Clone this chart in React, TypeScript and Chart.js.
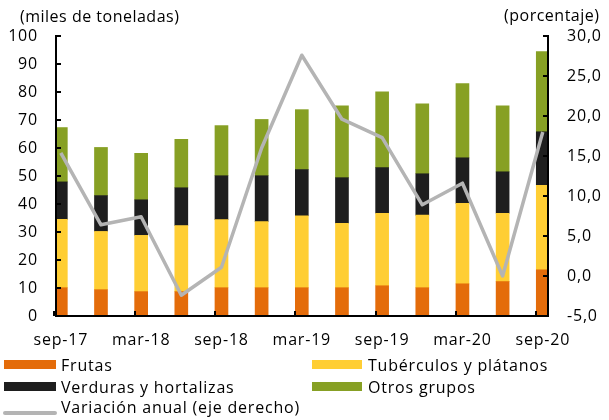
import React, { useEffect, useRef } from "react";
import { Chart, registerables } from "chart.js";

Chart.register(...registerables);

const categories = ["sep-17", "dic-17", "mar-18", "jun-18", "sep-18", "dic-18", "mar-19", "jun-19", "sep-19", "dic-19", "mar-20", "jun-20", "sep-20"];
const shownEvery = 2;

const frutas = [10.1, 9.4, 8.7, 8.7, 10.1, 10.1, 10.1, 10.1, 10.8, 10.1, 11.5, 12.3, 16.5];
const tuberculos = [24.4, 20.8, 20.1, 23.6, 24.3, 23.6, 25.7, 23.0, 25.9, 25.9, 28.7, 24.4, 30.2];
const verduras = [13.4, 12.8, 12.7, 13.5, 15.7, 16.4, 16.5, 16.3, 16.3, 14.8, 16.3, 14.8, 19.1];
const otros = [19.4, 17.2, 16.6, 17.3, 17.9, 20.1, 21.4, 25.7, 27.1, 25.0, 26.5, 23.6, 28.6];
const variacion = [15.4, 6.4, 7.4, -2.4, 1.1, 16.0, 27.6, 19.6, 17.3, 8.9, 11.6, 0.0, 18.0];

const seriesNames = ["Frutas", "Tubérculos y plátanos", "Verduras y hortalizas", "Otros grupos", "Variación anual (eje derecho)"];
const leftTitle = "(miles de toneladas)";
const rightTitle = "(porcentaje)";

const COLORS = {
  frutas: "#E46C0A",
  tuberculos: "#FFCE34",
  verduras: "#1E1E1E",
  otros: "#87A024",
  linea: "#B4B4B4",
};

const FONT = "'Open Sans', 'Noto Sans', sans-serif";
const BAR_W = 13;
const TICK_LEN = 5;

const innerTicks = {
  id: "innerTicks",
  beforeDraw(chart: any) {
    try {
      chart.ctx.letterSpacing = "0.8px";
    } catch (e) {}
  },
  afterDraw(chart: any) {
    const ctx = chart.ctx;
    const { left, right, bottom } = chart.chartArea;
    const y = chart.scales.y;
    const y1 = chart.scales.y1;
    const x = chart.scales.x;
    ctx.save();
    ctx.strokeStyle = "#000";
    ctx.lineWidth = 2;
    ctx.beginPath();
    y.ticks.forEach((t: any) => {
      const py = Math.round(y.getPixelForValue(t.value));
      ctx.moveTo(left, py);
      ctx.lineTo(left + TICK_LEN, py);
    });
    y1.ticks.forEach((t: any) => {
      const py = Math.round(y1.getPixelForValue(t.value));
      ctx.moveTo(right, py);
      ctx.lineTo(right - TICK_LEN, py);
    });
    categories.forEach((_, i) => {
      if (i % shownEvery !== 0) return;
      const px = Math.round(x.getPixelForValue(i) - BAR_W / 2);
      ctx.moveTo(px, bottom);
      ctx.lineTo(px, bottom - TICK_LEN);
    });
    ctx.stroke();
    ctx.restore();
  },
};

export default function App() {
  const ref = useRef<HTMLCanvasElement | null>(null);

  useEffect(() => {
    if (!ref.current) return;
    const toXY = (arr: number[]) => arr.map((v, i) => ({ x: i, y: v }));
    const barBase = { type: "bar" as const, yAxisID: "y", xAxisID: "x", barThickness: BAR_W, order: 2, borderWidth: 0 };
    const chart = new Chart(ref.current, {
      type: "bar",
      data: {
        datasets: [
          { ...barBase, label: seriesNames[0], data: toXY(frutas), backgroundColor: COLORS.frutas },
          { ...barBase, label: seriesNames[1], data: toXY(tuberculos), backgroundColor: COLORS.tuberculos },
          { ...barBase, label: seriesNames[2], data: toXY(verduras), backgroundColor: COLORS.verduras },
          { ...barBase, label: seriesNames[3], data: toXY(otros), backgroundColor: COLORS.otros },
          {
            type: "line" as const,
            label: seriesNames[4],
            data: toXY(variacion),
            yAxisID: "y1",
            xAxisID: "x",
            borderColor: COLORS.linea,
            backgroundColor: COLORS.linea,
            borderWidth: 3.5,
            pointRadius: 0,
            tension: 0,
            borderJoinStyle: "round",
            order: 0,
          } as any,
        ],
      },
      options: {
        responsive: false,
        animation: false,
        layout: { padding: { top: 36, left: 0, right: 0, bottom: 0 } },
        plugins: {
          legend: { display: false },
          tooltip: { enabled: false },
          title: { display: false },
        },
        scales: {
          x: {
            type: "linear",
            offset: false,
            min: -0.12,
            max: 12.13,
            stacked: true,
            grid: { display: false, drawTicks: false, offset: false },
            border: { display: true, color: "#000", width: 2, z: 1 } as any,
            afterBuildTicks: (scale: any) => {
              scale.ticks = categories
                .map((_, i) => i)
                .filter((i) => i % shownEvery === 0)
                .map((i) => ({ value: i }));
            },
            afterFit: (scale: any) => {
              scale.height = 104;
            },
            ticks: {
              autoSkip: false,
              maxRotation: 0,
              padding: 15,
              color: "#000",
              font: { family: FONT, size: 16 },
              callback: (v: any) => categories[Number(v)] ?? "",
            },
          } as any,
          y: {
            type: "linear",
            position: "left",
            stacked: true,
            min: 0,
            max: 100,
            grid: { display: false, drawTicks: false },
            border: { display: true, color: "#000", width: 2, z: 1 } as any,
            afterFit: (scale: any) => {
              scale.width = 56;
            },
            ticks: {
              stepSize: 10,
              padding: 18,
              color: "#000",
              font: { family: FONT, size: 16 },
            },
          },
          y1: {
            type: "linear",
            position: "right",
            min: -5,
            max: 30,
            grid: { display: false, drawTicks: false },
            border: { display: true, color: "#000", width: 2, z: 1 } as any,
            afterFit: (scale: any) => {
              scale.width = 61;
            },
            ticks: {
              stepSize: 5,
              padding: 19,
              color: "#000",
              font: { family: FONT, size: 16 },
              callback: (v: any) => Number(v).toFixed(1).replace(".", ","),
            },
          },
        },
      },
      plugins: [innerTicks],
    });
    return () => chart.destroy();
  }, []);

  const textStyle: React.CSSProperties = {
    position: "absolute",
    fontFamily: FONT,
    fontSize: 16,
    lineHeight: "20px",
    color: "#000",
    whiteSpace: "nowrap",
    letterSpacing: "0.8px",
  };
  const titleStyle: React.CSSProperties = { ...textStyle, letterSpacing: "0.5px" };
  const box = (color: string, left: number, top: number, w: number): React.CSSProperties => ({
    position: "absolute",
    left,
    top,
    width: w,
    height: 9,
    background: color,
  });

  return (
    <div style={{ position: "absolute", left: 0, top: 0, width: 609, height: 420, background: "#fff", overflow: "hidden" }}>
      <canvas ref={ref} width={609} height={420} style={{ display: "block", position: "absolute", left: 0, top: 0 }} />
      <span style={{ ...titleStyle, left: 20, top: 6 }}>{leftTitle}</span>
      <span style={{ ...titleStyle, left: 504, top: 5 }}>{rightTitle}</span>

      <div style={box(COLORS.frutas, 4, 360, 52)} />
      <span style={{ ...textStyle, left: 61, top: 355 }}>{seriesNames[0]}</span>
      <div style={box(COLORS.verduras, 4, 382, 52)} />
      <span style={{ ...textStyle, left: 61, top: 377 }}>{seriesNames[2]}</span>
      <div style={{ position: "absolute", left: 3, top: 411, width: 54, height: 4, borderRadius: 2, background: COLORS.linea }} />
      <span style={{ ...textStyle, left: 61, top: 397 }}>{seriesNames[4]}</span>

      <div style={box(COLORS.tuberculos, 312, 360, 50)} />
      <span style={{ ...textStyle, left: 368, top: 355 }}>{seriesNames[1]}</span>
      <div style={box(COLORS.otros, 312, 382, 50)} />
      <span style={{ ...textStyle, left: 368, top: 377 }}>{seriesNames[3]}</span>
    </div>
  );
}
